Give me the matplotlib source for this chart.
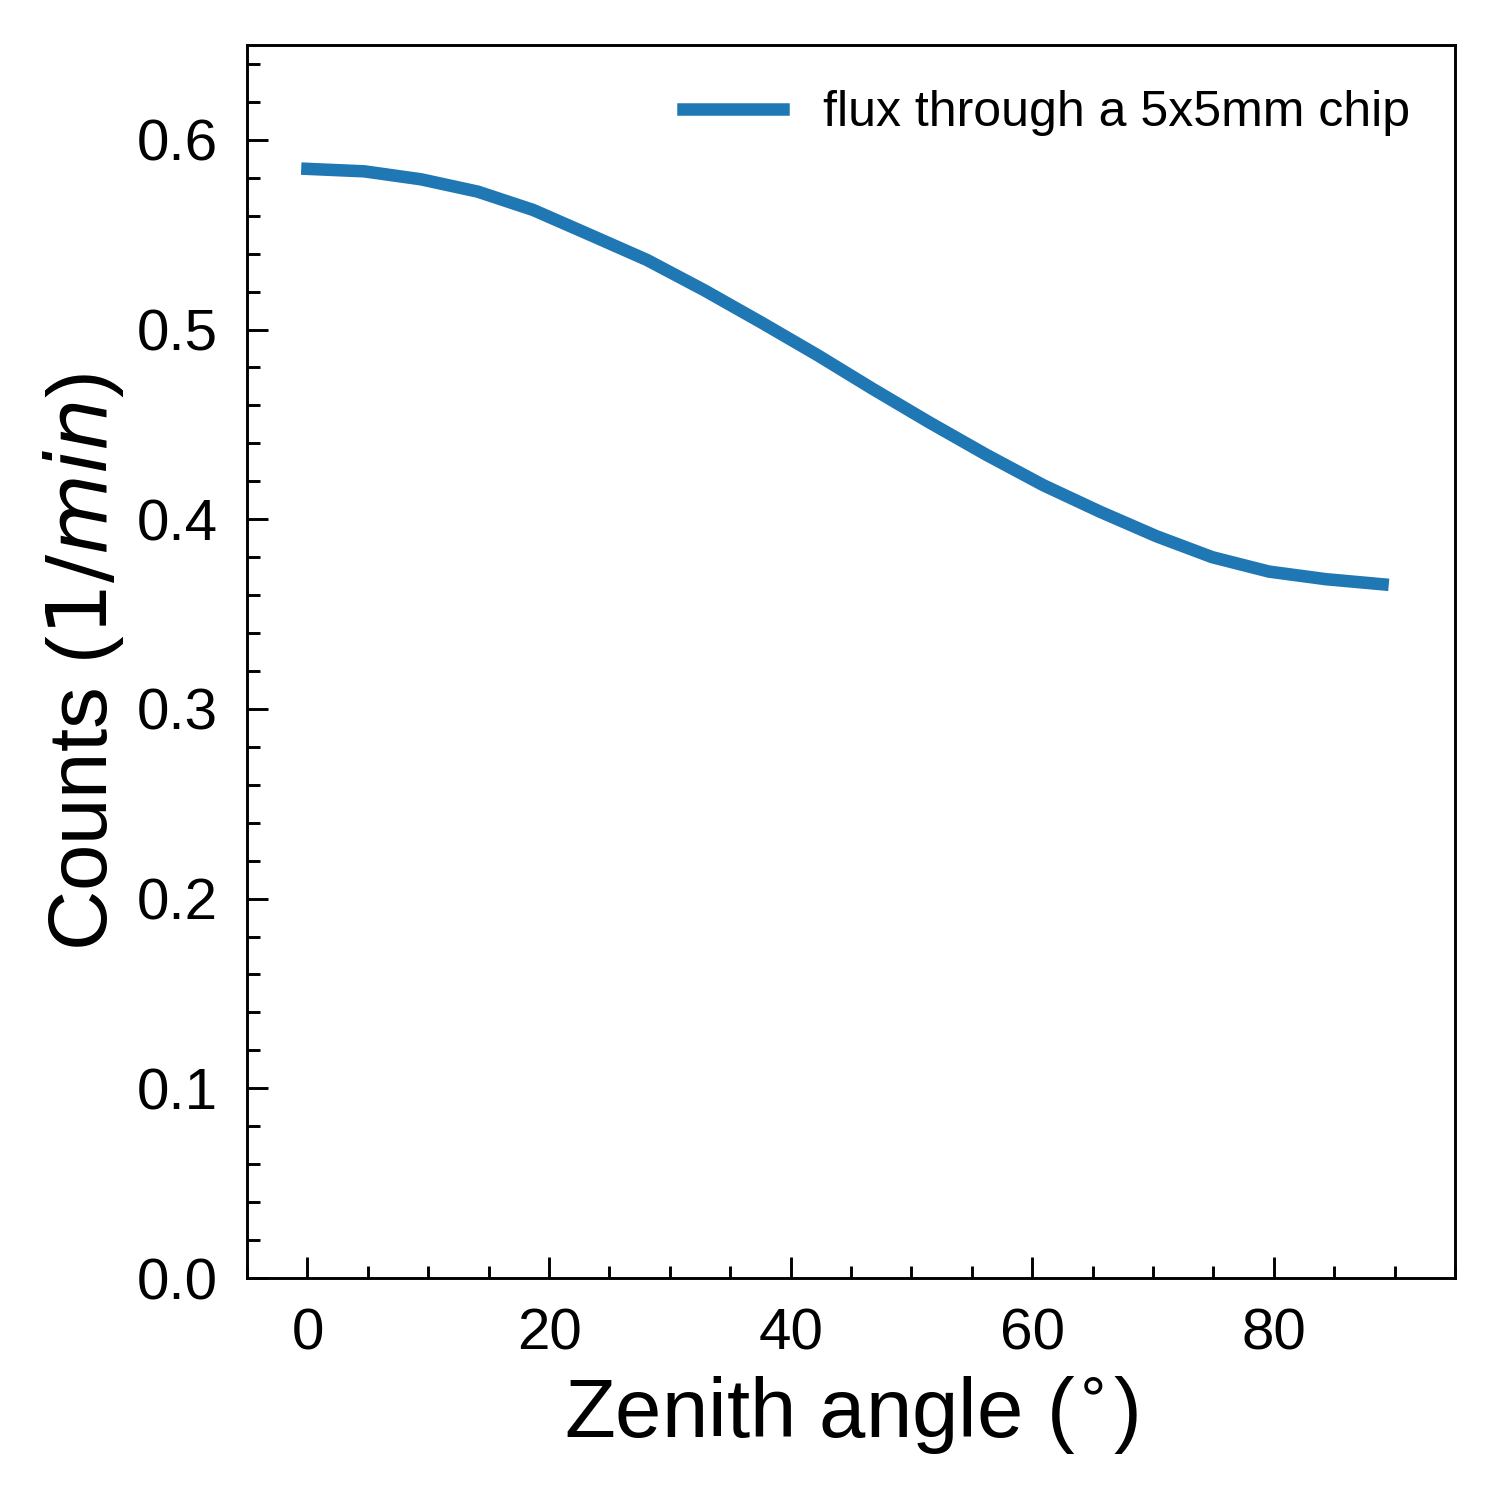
import matplotlib
matplotlib.use("Agg")
import matplotlib.pyplot as plt
from matplotlib.ticker import MultipleLocator

plt.rcParams['font.family'] = ['Liberation Sans', 'DejaVu Sans']
plt.rcParams['mathtext.fontset'] = 'dejavusans'

zenith_deg = [0.0, 4.7, 9.4, 14.1, 18.7, 23.4, 28.1, 32.8, 37.5, 42.2,
              46.8, 51.5, 56.2, 60.9, 65.6, 70.3, 74.9, 79.6, 84.3, 89.0]
counts = [0.5847, 0.5834, 0.5792, 0.5727, 0.5630, 0.5499, 0.5367, 0.5209, 0.5040, 0.4866,
          0.4687, 0.4510, 0.4340, 0.4180, 0.4040, 0.3910, 0.3800, 0.3724, 0.3684, 0.3657]
series_label = "flux through a 5x5mm chip"
x_ticks = [0, 20, 40, 60, 80]
y_ticks = [0.0, 0.1, 0.2, 0.3, 0.4, 0.5, 0.6]

fig = plt.figure(figsize=(5, 5), dpi=300)
ax = fig.add_axes([0.1647, 0.148, 0.8053, 0.822])
ax.plot(zenith_deg, counts, color='#1f77b4', lw=3, label=series_label)

ax.set_xlim(-5, 95)
ax.set_ylim(0, 0.65)
ax.set_xticks(x_ticks)
ax.set_yticks(y_ticks)
ax.set_yticklabels([f"{v:.1f}" for v in y_ticks])
ax.xaxis.set_minor_locator(MultipleLocator(5))
ax.yaxis.set_minor_locator(MultipleLocator(0.02))
ax.tick_params(which='both', direction='in', top=False, right=False, width=0.7)
ax.tick_params(which='major', length=5, labelsize=14, pad=7)
ax.tick_params(which='minor', length=3)
for s in ax.spines.values():
    s.set_linewidth(0.7)

ax.set_xlabel(r"Zenith angle ($^{\circ}$)", fontsize=20, labelpad=3)
ax.set_ylabel(r"Counts ($1/min$)", fontsize=20, labelpad=2.5)

ax.legend(loc='upper right', frameon=False, fontsize=12)

fig.savefig("out.png", dpi=300)
